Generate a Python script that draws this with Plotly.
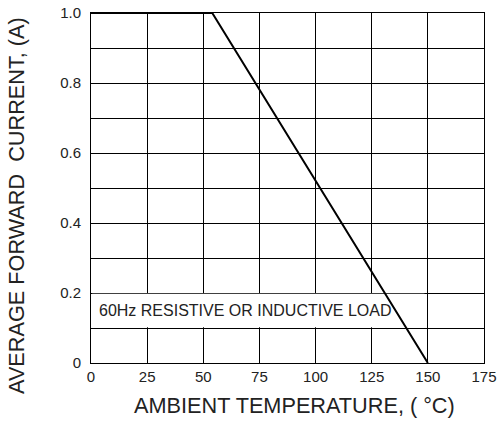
import plotly.graph_objects as go

# Derating curve data
temp_c = [0, 54, 150]
current_a = [1.0, 1.0, 0.0]

x_tick_vals = [0, 25, 50, 75, 100, 125, 150, 175]
x_tick_labels = ["0", "25", "50", "75", "100", "125", "150", "175"]
y_tick_vals = [0, 0.1, 0.2, 0.3, 0.4, 0.5, 0.6, 0.7, 0.8, 0.9, 1.0]
y_tick_labels = ["0", "", "0.2", "", "0.4", "", "0.6", "", "0.8", "", "1.0"]

load_note = "60Hz RESISTIVE OR INDUCTIVE LOAD"
x_title = "AMBIENT TEMPERATURE, ( °C)"
y_title = "AVERAGE FORWARD  CURRENT, (A)"

FONT = "Liberation Sans, Arial, sans-serif"

fig = go.Figure()
fig.add_trace(go.Scatter(
    x=temp_c, y=current_a, mode="lines",
    line=dict(color="black", width=2),
    hoverinfo="skip", showlegend=False, cliponaxis=False,
))

fig.add_shape(type="rect", xref="x", yref="y",
              x0=0.5, x1=148.5, y0=0.102, y1=0.198,
              fillcolor="white", line=dict(width=0), layer="between")

fig.add_annotation(text=load_note, xref="x", yref="y", x=2.5, y=0.15,
                   xanchor="left", yanchor="middle", showarrow=False,
                   font=dict(family=FONT, size=16, color="#222"))

fig.add_annotation(text=x_title, xref="paper", yref="paper",
                   x=0.517, y=-0.12, xanchor="center", yanchor="middle",
                   showarrow=False, font=dict(family=FONT, size=21.7, color="#222"))
fig.add_annotation(text=y_title, xref="paper", yref="paper",
                   x=-0.188, y=0.449, xanchor="center", yanchor="middle",
                   textangle=-90, showarrow=False,
                   font=dict(family=FONT, size=21.7, color="#222"))

fig.update_xaxes(range=[0, 175], tickvals=x_tick_vals, ticktext=x_tick_labels,
                 showgrid=True, gridcolor="black", gridwidth=1,
                 showline=True, linecolor="black", linewidth=1, mirror=True,
                 zeroline=False, ticks="", fixedrange=True, automargin=False,
                 tickfont=dict(family=FONT, size=15, color="#222"))
fig.update_yaxes(range=[0, 1.0], tickvals=y_tick_vals, ticktext=y_tick_labels,
                 showgrid=True, gridcolor="black", gridwidth=1,
                 showline=True, linecolor="black", linewidth=1, mirror=True,
                 zeroline=False, ticks="", ticklabelstandoff=6, fixedrange=True,
                 automargin=False,
                 tickfont=dict(family=FONT, size=15, color="#222"))

fig.update_layout(
    width=500, height=423,
    margin=dict(l=91, r=16, t=13, b=60),
    paper_bgcolor="white", plot_bgcolor="white",
    showlegend=False,
)

fig.write_html("out.html", config={"displayModeBar": False},
               post_script="document.body.style.margin='0';document.body.style.overflow='hidden';")
